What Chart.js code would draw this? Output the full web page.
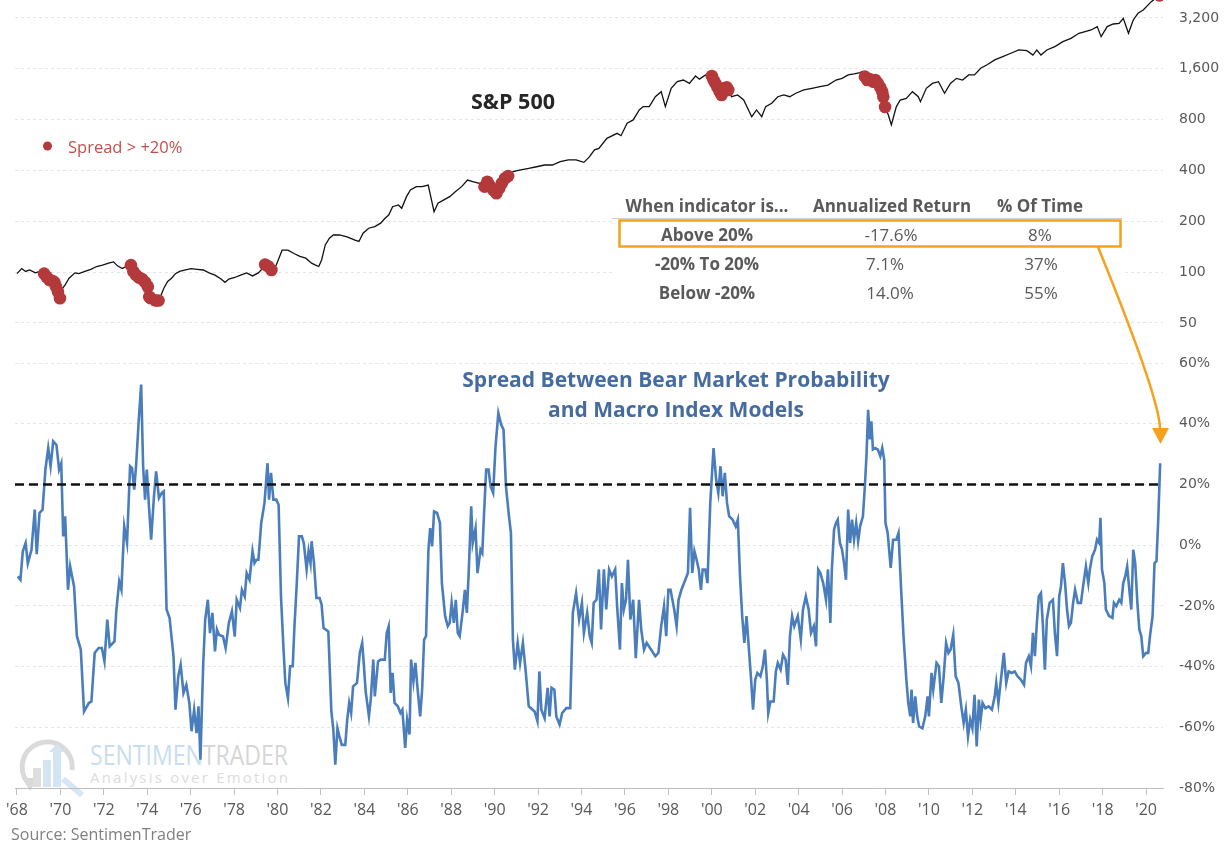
<!DOCTYPE html>
<html lang="en">
<head>
<meta charset="utf-8">
<title>Bear market probability spread vs S&amp;P 500</title>
<script src="https://cdn.jsdelivr.net/npm/chart.js@4.4.1/dist/chart.umd.min.js"></script>
<style>
  html, body { margin: 0; padding: 0; background: #ffffff; overflow: hidden; }
  #stage { position: relative; width: 1231px; height: 846px; }
  #stage > * { position: absolute; left: 0; top: 0; }
  #mark { z-index: 0; }
  #chart { z-index: 1; }
  #notes { z-index: 2; }
</style>
</head>
<body>
<div id="stage">
  <!-- faded logo watermark, sits under the chart lines -->
  <svg id="mark" width="1231" height="846">
    <path d="M 31 786 A 25 25 0 1 1 72 770" fill="none" stroke="#dadada" stroke-width="5"/>
    <polygon points="22,778 38,778 30,791" fill="#dadada"/>
    <rect x="33" y="768" width="8" height="19" fill="#dedede"/>
    <rect x="43" y="760" width="8" height="27" fill="#d3e4f2"/>
    <rect x="53" y="752" width="8" height="35" fill="#d3e4f2"/>
    <polygon points="57,744 65,752 49,752" fill="#d3e4f2"/>
    <line x1="63" y1="779" x2="82" y2="795" stroke="#d6e6f3" stroke-width="6"/>
    <text x="90" y="765" font-family="Open Sans, sans-serif" font-size="27" textLength="198" lengthAdjust="spacingAndGlyphs"><tspan fill="#c8ddef">SENTIMEN</tspan><tspan fill="#d6d6d6">TRADER</tspan></text>
    <text x="90" y="783" font-family="Open Sans, sans-serif" font-size="15" fill="#dcdcdc" textLength="198" lengthAdjust="spacing">Analysis over Emotion</text>
  </svg>
  <canvas id="chart" width="1231" height="846"></canvas>
  <svg id="notes" width="1231" height="846" font-family="Open Sans, sans-serif">
    <!-- legend -->
    <circle cx="47.5" cy="146" r="4.5" fill="#b3393a"/>
    <text x="68" y="146" dominant-baseline="central" font-size="16.5" fill="#c0504d">Spread &gt; +20%</text>
    <!-- panel labels -->
    <text x="513" y="100" text-anchor="middle" dominant-baseline="central" font-size="21.5" font-weight="bold" fill="#262626">S&amp;P 500</text>
    <text x="676" y="379" text-anchor="middle" dominant-baseline="central" font-size="21" font-weight="bold" fill="#466c9f">Spread Between Bear Market Probability</text>
    <text x="676" y="409" text-anchor="middle" dominant-baseline="central" font-size="21" font-weight="bold" fill="#466c9f">and Macro Index Models</text>
    <!-- stats table -->
    <rect x="612" y="191" width="510" height="114" fill="#ffffff"/>
    <line x1="612" y1="218.5" x2="1122" y2="218.5" stroke="#cfcfcf" stroke-width="1"/>
    <g font-size="17" fill="#595959" text-anchor="middle" dominant-baseline="central">
      <g font-weight="bold">
        <text x="707" y="205">When indicator is...</text>
        <text x="892" y="205">Annualized Return</text>
        <text x="1040" y="205">% Of Time</text>
        <text x="707" y="234">Above 20%</text>
        <text x="707" y="263">-20% To 20%</text>
        <text x="707" y="292">Below -20%</text>
      </g>
      <text x="891" y="234">-17.6%</text>
      <text x="1040" y="234">8%</text>
      <text x="885" y="263">7.1%</text>
      <text x="1041" y="263">37%</text>
      <text x="890" y="292">14.0%</text>
      <text x="1041" y="292">55%</text>
    </g>
    <rect x="619.5" y="220.5" width="501" height="26" fill="none" stroke="#f4a21c" stroke-width="2.5"/>
    <path d="M 1098 247 Q 1160 399 1160 429" fill="none" stroke="#f4a21c" stroke-width="2.5"/>
    <polygon points="1152,428 1169,428 1160.5,444" fill="#f4a21c"/>
    <!-- source -->
    <text x="11" y="834" dominant-baseline="central" font-size="16" fill="#7f7f7f">Source: SentimenTrader</text>
  </svg>
</div>
<script>
// --- tick values / labels ---
const yearTicks = [1968, 1970, 1972, 1974, 1976, 1978, 1980, 1982, 1984, 1986, 1988, 1990, 1992, 1994,
  1996, 1998, 2000, 2002, 2004, 2006, 2008, 2010, 2012, 2014, 2016, 2018, 2020];
const yearLabels = ["'68", "'70", "'72", "'74", "'76", "'78", "'80", "'82", "'84", "'86", "'88", "'90", "'92", "'94",
  "'96", "'98", "'00", "'02", "'04", "'06", "'08", "'10", "'12", "'14", "'16", "'18", "'20"];
const spxTicks = [50, 100, 200, 400, 800, 1600, 3200];
const spreadTicks = [-80, -60, -40, -20, 0, 20, 40, 60];
const threshold = 20;

// --- S&P 500 ---
const spxYears = [
  1968.00, 1968.22, 1968.40, 1968.58, 1968.85, 1969.04, 1969.25, 1969.36, 1969.49, 1969.62,
  1969.73, 1969.80, 1969.89, 1969.98, 1970.09, 1970.22, 1970.40, 1970.67, 1970.85, 1971.13,
  1971.40, 1971.67, 1971.94, 1972.22, 1972.45, 1972.63, 1972.85, 1973.07, 1973.25, 1973.36,
  1973.49, 1973.62, 1973.76, 1973.91, 1974.03, 1974.09, 1974.16, 1974.23, 1974.40, 1974.52,
  1974.60, 1974.76, 1974.94, 1975.12, 1975.30, 1975.49, 1975.76, 1976.03, 1976.30, 1976.58,
  1976.85, 1977.12, 1977.40, 1977.58, 1977.76, 1978.03, 1978.30, 1978.58, 1978.85, 1979.12,
  1979.30, 1979.43, 1979.58, 1979.72, 1979.94, 1980.21, 1980.48, 1980.76, 1981.03, 1981.30,
  1981.57, 1981.75, 1981.90, 1982.03, 1982.20, 1982.39, 1982.57, 1982.85, 1983.20, 1983.57,
  1983.75, 1983.94, 1984.20, 1984.48, 1984.75, 1984.94, 1985.12, 1985.30, 1985.57, 1985.72,
  1985.94, 1986.12, 1986.39, 1986.66, 1986.94, 1987.21, 1987.39, 1987.66, 1987.93, 1988.20,
  1988.48, 1988.75, 1989.03, 1989.30, 1989.53, 1989.66, 1989.75, 1989.93, 1990.08, 1990.21,
  1990.33, 1990.48, 1990.62, 1990.84, 1991.20, 1991.57, 1991.93, 1992.30, 1992.66, 1993.02,
  1993.39, 1993.75, 1994.11, 1994.35, 1994.60, 1994.80, 1995.17, 1995.64, 1995.82, 1996.10,
  1996.38, 1996.66, 1996.84, 1997.12, 1997.40, 1997.67, 1997.86, 1998.13, 1998.41, 1998.69,
  1998.97, 1999.25, 1999.43, 1999.71, 1999.89, 2000.00, 2000.08, 2000.17, 2000.26, 2000.36,
  2000.45, 2000.54, 2000.69, 2000.76, 2000.91, 2001.19, 2001.47, 2001.69, 2001.84, 2002.06,
  2002.30, 2002.48, 2002.76, 2003.04, 2003.32, 2003.59, 2003.87, 2004.24, 2004.61, 2004.98,
  2005.35, 2005.72, 2006.00, 2006.28, 2006.55, 2006.83, 2006.92, 2007.05, 2007.16, 2007.29,
  2007.42, 2007.53, 2007.65, 2007.76, 2007.85, 2007.90, 2007.98, 2008.13, 2008.27, 2008.50,
  2008.68, 2008.96, 2009.24, 2009.51, 2009.61, 2009.88, 2010.16, 2010.44, 2010.72, 2010.99,
  2011.27, 2011.55, 2011.83, 2012.10, 2012.38, 2012.66, 2013.03, 2013.40, 2013.77, 2014.14,
  2014.51, 2014.79, 2014.97, 2015.16, 2015.43, 2015.80, 2016.17, 2016.54, 2016.91, 2017.19,
  2017.47, 2017.75, 2017.93, 2018.21, 2018.49, 2018.76, 2018.95, 2019.19, 2019.41, 2019.63,
  2019.87, 2020.24, 2020.62
];
const spxValues = [
  98, 105, 101, 103, 99, 101, 98, 94, 90, 89,
  87, 82, 76.5, 70, 80, 84, 92, 99, 98, 101,
  104, 108, 110, 113, 115, 109, 105, 109, 110, 101,
  96, 93, 91, 87, 82, 71.5, 70, 64, 68, 68,
  71, 80, 88, 92, 98, 101, 103, 105, 104, 103,
  99, 96, 91, 87, 91, 93, 96, 99, 95, 99,
  105, 111, 108, 103, 110, 135, 135, 129, 124, 121,
  113, 110, 108, 118, 145, 159, 166, 166, 162, 155,
  152, 170, 182, 186, 195, 208, 218, 244, 250, 239,
  280, 307, 321, 321, 328, 228, 256, 268, 280, 300,
  321, 351, 343, 336, 321, 343, 328, 307, 293, 314,
  336, 360, 371, 394, 403, 412, 421, 431, 431, 451,
  462, 462, 447, 480, 530, 541, 620, 664, 643, 762,
  797, 913, 956, 956, 1094, 1172, 956, 1226, 1343, 1373,
  1312, 1451, 1390, 1472, 1451, 1451, 1373, 1312, 1243, 1172,
  1121, 1226, 1243, 1199, 1094, 1121, 1046, 913, 833, 913,
  833, 956, 1000, 1094, 1121, 1094, 1147, 1199, 1226, 1254,
  1283, 1373, 1405, 1472, 1493, 1519, 1540, 1438, 1373, 1385,
  1343, 1373, 1312, 1243, 1172, 1094, 950, 853, 744, 956,
  1046, 1070, 1172, 1094, 1022, 1226, 1312, 1343, 1147, 1312,
  1405, 1373, 1472, 1472, 1612, 1687, 1806, 1889, 1978, 2069,
  2050, 1930, 2069, 1930, 2069, 2166, 2318, 2425, 2598, 2657,
  2718, 2845, 2482, 2845, 2949, 2975, 3187, 2598, 3115, 3411,
  3570, 3998, 4350
];

// --- red dots: S&P months where the spread was above +20% ---
const signalYears = [
  1969.25, 1969.36, 1969.49, 1969.62, 1969.73, 1969.80, 1969.89, 1969.98,
  1973.25, 1973.36, 1973.49, 1973.62, 1973.76, 1973.91, 1974.03, 1974.09, 1974.16, 1974.40, 1974.52,
  1979.43, 1979.58, 1979.72,
  1989.53, 1989.66, 1989.75, 1989.93, 1990.08, 1990.21, 1990.33, 1990.48, 1990.62,
  2000.00, 2000.08, 2000.17, 2000.26, 2000.36, 2000.45, 2000.54, 2000.69, 2000.76,
  2007.05, 2007.16, 2007.29, 2007.42, 2007.53, 2007.65, 2007.76, 2007.85, 2007.90, 2007.98,
  2020.62
];
const signalValues = [
  98, 94, 90, 89, 87, 82, 76.5, 70,
  110, 101, 96, 93, 91, 87, 82, 71.5, 70, 68, 68,
  111, 108, 103,
  321, 343, 328, 307, 293, 314, 336, 360, 371,
  1451, 1373, 1312, 1243, 1172, 1121, 1226, 1243, 1199,
  1438, 1373, 1385, 1343, 1373, 1312, 1243, 1172, 1094, 950,
  4350
];

// --- spread between bear market probability and macro index models (%) ---
const spreadYears = [
  1968.04, 1968.16, 1968.27, 1968.40, 1968.50, 1968.67, 1968.82, 1968.91, 1969.04, 1969.18,
  1969.31, 1969.44, 1969.55, 1969.67, 1969.82, 1969.94, 1970.04, 1970.13, 1970.22, 1970.35,
  1970.45, 1970.63, 1970.76, 1970.94, 1971.09, 1971.31, 1971.43, 1971.58, 1971.76, 1971.91,
  1972.03, 1972.16, 1972.27, 1972.49, 1972.58, 1972.71, 1972.81, 1972.94, 1973.07, 1973.21,
  1973.30, 1973.40, 1973.49, 1973.61, 1973.72, 1973.81, 1973.90, 1973.98, 1974.07, 1974.18,
  1974.31, 1974.41, 1974.54, 1974.67, 1974.76, 1974.89, 1975.03, 1975.21, 1975.30, 1975.43,
  1975.54, 1975.67, 1975.80, 1975.94, 1976.04, 1976.16, 1976.27, 1976.36, 1976.45, 1976.52,
  1976.58, 1976.67, 1976.79, 1976.89, 1977.00, 1977.12, 1977.21, 1977.30, 1977.49, 1977.61,
  1977.76, 1977.90, 1978.03, 1978.12, 1978.27, 1978.36, 1978.49, 1978.58, 1978.71, 1978.85,
  1978.94, 1979.03, 1979.12, 1979.25, 1979.40, 1979.54, 1979.61, 1979.70, 1979.81, 1979.94,
  1980.05, 1980.16, 1980.27, 1980.36, 1980.48, 1980.58, 1980.70, 1980.78, 1980.88, 1980.99,
  1981.12, 1981.21, 1981.34, 1981.43, 1981.52, 1981.57, 1981.68, 1981.79, 1981.94, 1982.03,
  1982.12, 1982.34, 1982.48, 1982.57, 1982.66, 1982.76, 1982.85, 1982.96, 1983.12, 1983.21,
  1983.30, 1983.39, 1983.48, 1983.57, 1983.66, 1983.79, 1983.90, 1983.97, 1984.06, 1984.21,
  1984.30, 1984.41, 1984.48, 1984.63, 1984.75, 1984.94, 1985.03, 1985.12, 1985.21, 1985.30,
  1985.39, 1985.54, 1985.66, 1985.75, 1985.88, 1985.97, 1986.08, 1986.15, 1986.26, 1986.35,
  1986.44, 1986.57, 1986.66, 1986.75, 1986.84, 1986.95, 1987.03, 1987.12, 1987.21, 1987.35,
  1987.48, 1987.57, 1987.72, 1987.84, 1987.93, 1988.02, 1988.12, 1988.21, 1988.30, 1988.39,
  1988.52, 1988.63, 1988.72, 1988.81, 1988.92, 1988.99, 1989.12, 1989.21, 1989.35, 1989.43,
  1989.52, 1989.61, 1989.72, 1989.81, 1989.93, 1990.04, 1990.17, 1990.30, 1990.41, 1990.52,
  1990.66, 1990.75, 1990.84, 1990.93, 1991.06, 1991.17, 1991.30, 1991.43, 1991.57, 1991.75,
  1991.84, 1991.97, 1992.06, 1992.15, 1992.30, 1992.44, 1992.53, 1992.62, 1992.75, 1992.84,
  1992.99, 1993.11, 1993.30, 1993.48, 1993.60, 1993.75, 1993.89, 1994.02, 1994.11, 1994.26,
  1994.38, 1994.47, 1994.56, 1994.69,
  1994.80, 1994.90, 1995.03, 1995.14, 1995.27, 1995.40, 1995.55, 1995.64, 1995.77, 1995.86,
  1995.95, 1996.05, 1996.14, 1996.25, 1996.38, 1996.50, 1996.65, 1996.75, 1996.88, 1997.00,
  1997.20, 1997.40, 1997.54, 1997.67, 1997.80, 1997.90, 1998.00, 1998.10, 1998.27, 1998.38,
  1998.47, 1998.60, 1998.78, 1998.90, 1999.00, 1999.10, 1999.20, 1999.30, 1999.40, 1999.50,
  1999.58, 1999.70, 1999.80, 1999.93, 2000.08, 2000.20, 2000.30, 2000.40, 2000.50, 2000.60,
  2000.70, 2000.80, 2000.96, 2001.10, 2001.20, 2001.30, 2001.40, 2001.50, 2001.60, 2001.70,
  2001.80, 2001.90, 2002.00, 2002.10, 2002.24, 2002.35, 2002.45, 2002.54, 2002.60, 2002.70,
  2002.85, 2002.95, 2003.04, 2003.17, 2003.28, 2003.40, 2003.50, 2003.60, 2003.70, 2003.80,
  2003.96, 2004.10, 2004.20, 2004.33, 2004.46, 2004.57, 2004.70, 2004.80, 2004.90, 2005.00,
  2005.13, 2005.26, 2005.35, 2005.46, 2005.53, 2005.63, 2005.72, 2005.80, 2005.90, 2006.00,
  2006.09, 2006.18, 2006.28, 2006.37, 2006.46, 2006.55, 2006.65, 2006.74, 2006.83, 2006.96,
  2007.05, 2007.13, 2007.20, 2007.28, 2007.35, 2007.42, 2007.53, 2007.65, 2007.76, 2007.85,
  2007.94, 2008.00, 2008.10, 2008.24, 2008.35, 2008.50, 2008.60, 2008.72, 2008.83, 2008.96,
  2009.05, 2009.14, 2009.20, 2009.27, 2009.37, 2009.46, 2009.55, 2009.70, 2009.83, 2009.94,
  2010.00, 2010.12, 2010.20, 2010.35, 2010.46, 2010.57, 2010.68, 2010.79, 2010.90, 2011.00,
  2011.12, 2011.23, 2011.36, 2011.49, 2011.60, 2011.70, 2011.80, 2011.90, 2012.00, 2012.10,
  2012.20, 2012.30, 2012.38, 2012.47, 2012.60, 2012.75, 2012.90, 2013.03, 2013.10, 2013.20,
  2013.34, 2013.45, 2013.56, 2013.67, 2013.82, 2013.95, 2014.08, 2014.23, 2014.38, 2014.47,
  2014.60, 2014.70, 2014.79, 2014.88, 2014.97, 2015.06, 2015.16, 2015.25, 2015.34, 2015.43,
  2015.56, 2015.71, 2015.80, 2015.90, 2016.00, 2016.08, 2016.17, 2016.27, 2016.36, 2016.45,
  2016.54, 2016.64, 2016.73, 2016.86, 2017.00, 2017.10, 2017.23, 2017.34, 2017.41, 2017.52,
  2017.65, 2017.74, 2017.84, 2017.90, 2017.97, 2018.08, 2018.15, 2018.30, 2018.45, 2018.52,
  2018.63, 2018.76, 2018.86, 2018.95, 2019.04, 2019.13, 2019.23, 2019.32, 2019.41, 2019.50,
  2019.60, 2019.69, 2019.78, 2019.87, 2020.00, 2020.10, 2020.18, 2020.30, 2020.39, 2020.48,
  2020.56, 2020.65
];
const spreadValues = [
  -10.3, -11.4, -2, 0.7, -6, -1.5, 11.7, -3, 10.6, 11.7,
  24.9, 32, 26, 34.2, 33, 24.9, 27, 2.9, 9.5, -14.7,
  -7, -13.6, -30, -34.4, -54.8, -52, -51.5, -35.5, -33.9, -33.9,
  -38.3, -24.5, -33.3, -31.7, -21.2, -12, -14.7, 6.2, 0.7, 26,
  25.4, 18.3, 26.5, 41.3, 52.9, 26, 15, 24.9, 13.9, 1.8,
  16.1, 24.3, 15.5, 17.2, 17.7, -21.2, -24, -36.6, -54.2, -43.2,
  -39.4, -48.7, -46, -52, -61.3, -54.2, -61.9, -53.1, -70.7, -53.1,
  -38.8, -24.5, -18, -29, -22.3, -35, -27.8, -29.5, -30.1, -33.9,
  -25.6, -21.8, -30.1, -18, -20.7, -14.7, -16.9, -9.2, -11.4, -2,
  -5.9, -4.8, -4.8, 7.3, 13.9, 27, 15, 23.8, 15, 15,
  13.3, -16.9, -33.3, -45.4, -50.4, -39.9, -39.9, -26.7, -13.6, 2.9,
  2.9, 0.7, -8, -2, -5.9, 1.3, -5.9, -17.4, -17.4, -19.6,
  -27.3, -28.4, -54.8, -60.8, -72.3, -60.3, -63, -65.8, -65.8, -57.5,
  -52, -55.3, -46.5, -46, -45.4, -35.5, -32.2, -38.8, -48.2, -56.4,
  -50.4, -37.7, -49.8, -38.3, -37.7, -37.7, -28.9, -26.7, -48.7, -42.1,
  -52, -53.1, -55.3, -54.2, -66.8, -57.5, -62.4, -37.7, -44.9, -38.8,
  -46.5, -56.4, -47.6, -31.1, -30, -1.5, 5.6, -0.4, 11.1, 10.6,
  7.3, -12.5, -23.4, -26.7, -25.6, -19, -25.6, -18, -28.9, -30,
  -22.3, -14.7, -22.3, -8, 12.8, 0.7, 5.6, -9.2, -1.5, -2.6,
  11.7, 24.9, 24.9, 19.4, 17.2, 32.5, 43.5, 39.7, 38, 19.4,
  9.5, 4, -31.1, -41, -32.2, -38.8, -32.2, -41.6, -53.1, -54.2,
  -54.8, -58, -41.6, -54.2, -57, -47, -56.4, -47, -47.6, -56.4,
  -59.1, -55.3, -53.7, -53.7, -22.3, -15.8, -24.5, -19, -28.9, -22.3,
  -30, -32.2, -19, -18,
  -8, -27.8, -8, -21.2, -8, -10.3, -8, -20.1, -34.4, -12.5,
  -21.2, -18, -4.8, -24.5, -18, -37.2, -18, -27.8, -34.4, -32.2,
  -34.4, -36.6, -35.5, -26.7, -20.1, -30, -14.7, -14.7, -21.2, -26.7,
  -18, -14.7, -11.4, -9.2, 12.3, -9.2, -2, -4.8, -8, -14.7,
  -8, -8, -12.5, 13.9, 32, 21.6, 17.2, 26, 16.1, 23.8,
  13.9, 9.5, 8.4, 6.2, 8.4, -10.3, -23.4, -32.2, -23.4, -33.3,
  -43.2, -54.2, -44.3, -42.1, -43.2, -39.9, -34.4, -44.9, -55.3, -51.5,
  -51.5, -41.6, -38.8, -41, -36.1, -37.7, -46, -30, -23.4, -26.7,
  -23.4, -31.1, -21.2, -16.9, -21.2, -28.9, -26.7, -33.3, -8, -9.2,
  -12.5, -18, -8, -25.6, -8, 5.1, 7.3, 8.4, 0.7, -1.5,
  -5.9, -11.4, 11.7, 0.7, 8.4, 1.8, 7.3, 1.3, 6.2, 9.5,
  19.4, 30.4, 44.6, 34.8, 40.8, 31.5, 32, 31.5, 29.3, 32,
  28.2, 7.3, 4, -7.5, 1.8, 1.8, 4, -14.7, -30, -44.3,
  -52, -56.4, -47.6, -58.6, -49.8, -56.4, -59.7, -60.3, -56.4, -49.8,
  -56.4, -42.1, -47.6, -38.8, -39.9, -52, -43.2, -32.2, -35.5, -34.4,
  -29.5, -43.2, -45.4, -53.1, -58.6, -54.2, -63, -57.5, -60.3, -49.3,
  -66.3, -50.9, -57.5, -52, -53.7, -53.1, -54.2, -49.8, -45.4, -52,
  -42.7, -35.5, -45.4, -41.6, -42.1, -41.6, -43.2, -44.3, -46, -38.8,
  -36.6, -39.9, -28.9, -36.6, -25.6, -16.9, -15.8, -26.7, -41, -24.5,
  -19, -18, -28.9, -36.6, -16.9, -13.6, -5.9, -12.5, -21.2, -26.7,
  -25.6, -19, -14.7, -19, -19, -13.6, -7, -12.5, -8, -3.7,
  -1.5, 1.8, 0.7, 9, -8, -12.5, -21.2, -23.4, -24, -19,
  -20.1, -18, -19, -12.5, -10.3, -7, -14.7, -21.2, -1.5, -5.9,
  -19, -27.8, -30, -36.6, -35.5, -35.5, -30, -23.4, -5.9, -5.3,
  8.4, 27
];

const X_MIN = 1967.91, X_MAX = 2020.78;
const toPoints = (xs, ys) => xs.map((x, i) => ({ x: x, y: ys[i] }));

const axisFont = { family: "'DejaVu Sans', sans-serif", size: 14 };
const gridGrey = '#e6e6e6';

// stacked panels: keep the tick-label overhang from pushing the chart area down
const fitRight = s => { s.width = 68; s.paddingTop = 0; s.paddingBottom = 0; };

new Chart(document.getElementById('chart'), {
    type: 'line',
    data: {
        datasets: [
            {   // +20% threshold
                data: [{ x: X_MIN, y: threshold }, { x: X_MAX, y: threshold }],
                yAxisID: 'ySpread', order: 0,
                borderColor: '#111111', borderWidth: 2.4, borderDash: [9, 5],
                pointRadius: 0
            },
            {   // Spread > +20%
                data: toPoints(signalYears, signalValues),
                yAxisID: 'ySpx', order: 1, showLine: false,
                pointRadius: 6.3, pointBackgroundColor: '#b3393a', pointBorderWidth: 0
            },
            {   // S&P 500
                data: toPoints(spxYears, spxValues),
                yAxisID: 'ySpx', order: 2,
                borderColor: '#111111', borderWidth: 1.3, pointRadius: 0, tension: 0
            },
            {   // spread line
                data: toPoints(spreadYears, spreadValues),
                yAxisID: 'ySpread', order: 3,
                borderColor: '#4a7dbb', borderWidth: 2.6, pointRadius: 0, tension: 0
            }
        ]
    },
    options: {
        responsive: false,
        animation: false,
        devicePixelRatio: 1,
        events: [],
        layout: { autoPadding: false, padding: { left: 15, top: 0, right: 0, bottom: 0 } },
        plugins: { legend: { display: false }, tooltip: { enabled: false } },
        scales: {
            x: {
                type: 'linear', min: X_MIN, max: X_MAX,
                afterBuildTicks: s => { s.ticks = yearTicks.map(v => ({ value: v })); },
                afterFit: s => { s.height = 58; s.paddingLeft = 0; s.paddingRight = 0; },
                grid: { drawOnChartArea: false, drawTicks: true, tickLength: 7, color: '#bfbfbf' },
                border: { color: '#bfbfbf' },
                ticks: {
                    autoSkip: false, maxRotation: 0, padding: 6, color: '#595959',
                    font: { family: "'Open Sans', sans-serif", size: 16 },
                    callback: (v, i) => yearLabels[i]
                }
            },
            ySpx: {
                type: 'logarithmic', position: 'right', stack: 'panels', stackWeight: 340,
                min: 39.65, max: 4090,
                afterBuildTicks: s => { s.ticks = spxTicks.map(v => ({ value: v })); },
                afterFit: fitRight,
                grid: { color: gridGrey, drawTicks: false },
                border: { display: false, dash: [3, 3] },
                ticks: { padding: 16, color: '#595959', font: axisFont, callback: v => v.toLocaleString('en-US') }
            },
            ySpread: {
                type: 'linear', position: 'right', stack: 'panels', stackWeight: 448,
                min: -80, max: 67.58,
                afterBuildTicks: s => { s.ticks = spreadTicks.map(v => ({ value: v })); },
                afterFit: fitRight,
                grid: { color: ctx => (ctx.tick && ctx.tick.value === -80) ? 'rgba(0,0,0,0)' : gridGrey, drawTicks: false },
                border: { display: false, dash: [3, 3] },
                ticks: { padding: 16, color: '#595959', font: axisFont, callback: v => v + '%' }
            }
        }
    }
});
</script>
</body>
</html>
